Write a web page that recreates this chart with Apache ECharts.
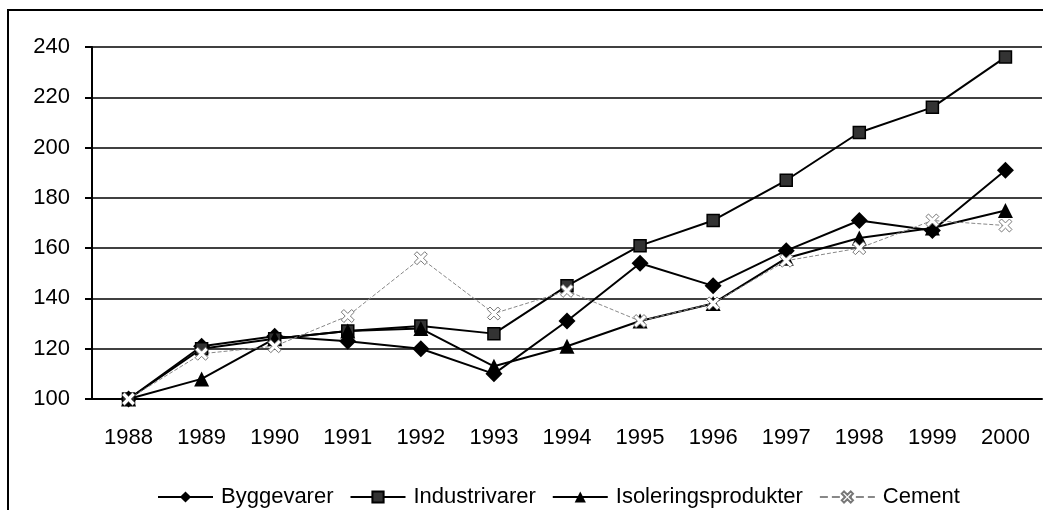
<!DOCTYPE html>
<html>
<head>
<meta charset="utf-8">
<script src="https://cdn.jsdelivr.net/npm/echarts@6/dist/echarts.min.js"></script>
<style>
html, body { margin: 0; padding: 0; background: #fff; }
#chart { width: 1043px; height: 510px; }
</style>
</head>
<body>
<div id="chart"></div>
<script>
// data
var years = ['1988', '1989', '1990', '1991', '1992', '1993', '1994', '1995', '1996', '1997', '1998', '1999', '2000'];
var byggevarer = [100, 121, 125, 123, 120, 110, 131, 154, 145, 159, 171, 167, 191];
var industrivarer = [100, 120, 124, 127, 129, 126, 145, 161, 171, 187, 206, 216, 236];
var isolering = [100, 108, 124, 127, 128, 113, 121, 131, 138, 156, 164, 168, 175];
var cement = [100, 118, 121, 133, 156, 134, 143, 131, 138, 155, 160, 171, 169];

var xSymbol = 'path://M0,2L2,0L5,3L8,0L10,2L7,5L10,8L8,10L5,7L2,10L0,8L3,5Z';
var font = 'Liberation Sans, Arial, sans-serif';

var chart = echarts.init(document.getElementById('chart'));
chart.setOption({
    animation: false,
    graphic: [{
        type: 'rect',
        shape: { x: 8, y: 10, width: 1100, height: 600 },
        style: { fill: 'none', stroke: '#000', lineWidth: 2 },
        silent: true
    }],
    grid: { left: 92, right: 1, top: 47, bottom: 111 },
    legend: {
        left: 152,
        top: 481,
        itemWidth: 55,
        itemHeight: 14,
        itemGap: 16,
        textStyle: { fontFamily: font, fontSize: 22, color: '#000', padding: [0, 0, 0, 3] },
        data: ['Byggevarer', 'Industrivarer', 'Isoleringsprodukter', 'Cement']
    },
    xAxis: {
        type: 'category',
        data: years,
        boundaryGap: true,
        axisLine: { lineStyle: { color: '#000', width: 2 } },
        axisTick: { length: 8, lineStyle: { color: '#000', width: 2 } },
        axisLabel: { margin: 28, fontFamily: font, fontSize: 22, color: '#000' }
    },
    yAxis: {
        type: 'value',
        min: 100,
        max: 240,
        interval: 20,
        axisLine: { show: true, lineStyle: { color: '#000', width: 2 } },
        axisTick: { show: true, length: 7, lineStyle: { color: '#000', width: 2 } },
        axisLabel: { margin: 22, fontFamily: font, fontSize: 22, color: '#000' },
        splitLine: { lineStyle: { color: '#000', width: 1.5 } }
    },
    series: [{
        name: 'Byggevarer',
        type: 'line',
        data: byggevarer,
        symbol: 'diamond',
        symbolSize: 17,
        lineStyle: { color: '#000', width: 2 },
        itemStyle: { color: '#000' }
    }, {
        name: 'Industrivarer',
        type: 'line',
        data: industrivarer,
        symbol: 'rect',
        symbolSize: 12,
        lineStyle: { color: '#000', width: 2 },
        itemStyle: { color: '#333', borderColor: '#000', borderWidth: 1.5 }
    }, {
        name: 'Isoleringsprodukter',
        type: 'line',
        data: isolering,
        symbol: 'triangle',
        symbolSize: 15,
        lineStyle: { color: '#000', width: 2 },
        itemStyle: { color: '#000' }
    }, {
        name: 'Cement',
        type: 'line',
        data: cement,
        symbol: xSymbol,
        symbolSize: 13,
        lineStyle: { color: '#888', width: 1, type: 'dashed' },
        itemStyle: { color: '#fff', borderColor: '#777', borderWidth: 1 }
    }]
});
</script>
</body>
</html>
